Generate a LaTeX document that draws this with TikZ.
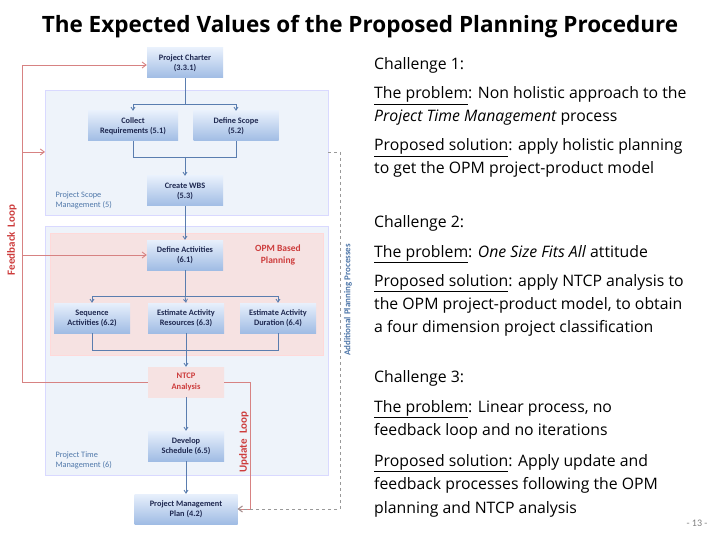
\documentclass[tikz,border=0pt]{standalone}
\usepackage{fontspec}
\setmainfont{Carlito}
\newfontfamily\osans{Open Sans}
\usetikzlibrary{arrows.meta}
\definecolor{boxtop}{RGB}{232,240,252}
\definecolor{boxbot}{RGB}{160,188,228}
\definecolor{navy}{RGB}{30,40,80}
\definecolor{lblue}{RGB}{80,120,170}
\definecolor{bgblue}{RGB}{238,243,250}
\definecolor{bgpink}{RGB}{246,226,226}
\definecolor{fred}{RGB}{205,60,60}
\definecolor{lred}{RGB}{215,130,130}
\definecolor{conn}{RGB}{90,125,175}
\tikzset{x=1pt,y=-1pt,
 proc/.style={top color=boxtop,bottom color=boxbot,draw=none,minimum width=76pt,minimum height=30pt,align=center,font=\fontsize{8.3}{10}\selectfont\bfseries,text=navy,inner sep=1pt},
 ln/.style={draw=conn,line width=0.8pt},
 ar/.style={ln,-{Straight Barb[length=3pt,width=4pt]}},
 fb/.style={draw=lred,line width=0.9pt},
 fbar/.style={fb,-{Straight Barb[length=4pt,width=6pt]}},
 rt/.style={anchor=base west,font=\osans\fontsize{15.8}{18}\selectfont,inner sep=0pt},
 grp/.style={font=\fontsize{8.3}{10}\selectfont,text=lblue,align=left,anchor=west}}
\begin{document}
\begin{tikzpicture}
\useasboundingbox[fill=white] (0,0) rectangle (720,540);
\node[font=\osans\fontsize{22.5}{26}\selectfont\bfseries] (title) at (360,27) {The Expected Values of the Proposed Planning Procedure};
% backgrounds
\path[fill=bgblue,draw=white!85!blue] (45,90) rectangle (328,215);
\coordinate (scopeL) at (45,152);
\coordinate (scopeR) at (328,152);
\path[fill=bgblue,draw=white!85!blue] (45,226) rectangle (328,475);
\path[fill=bgpink,draw=white!85!red] (50,233) rectangle (323,355);
% nodes
\node[proc] (pc) at (185,63) {Project Charter\\(3.3.1)};
\node[proc,minimum width=90pt] (cr) at (133,126) {Collect\\Requirements (5.1)};
\node[proc,minimum width=85pt] (ds) at (236,126) {Define Scope\\(5.2)};
\node[proc] (wbs) at (185,191) {Create WBS\\(5.3)};
\node[grp] (psm) at (52,200) {Project Scope\\Management (5)};
\node[proc] (da) at (185,255) {Define Activities\\(6.1)};
\node[font=\fontsize{9.5}{11.5}\selectfont\bfseries,text=fred,align=center] (opm) at (278,255) {OPM Based\\Planning};
\node[proc] (sa) at (92,318) {Sequence\\Activities (6.2)};
\node[proc] (er) at (186,318) {Estimate Activity\\Resources (6.3)};
\node[proc] (ed) at (278,318) {Estimate Activity\\Duration (6.4)};
\node[proc,top color=bgpink,bottom color=bgpink,text=fred,font=\fontsize{8.5}{10.5}\selectfont\bfseries] (ntcp) at (186,382) {NTCP\\Analysis};
\node[proc] (dev) at (186,446) {Develop\\Schedule (6.5)};
\node[grp] (ptm) at (52,460) {Project Time\\Management (6)};
\node[proc,minimum width=103pt] (pmp) at (186,509) {Project Management\\Plan (4.2)};
% connectors
\draw[ln] (pc.south) -- (185,104);
\draw[ar] (185,104) -| (cr.north);
\draw[ar] (185,104) -| (ds.north);
\draw[ln] (cr.south) |- (185,157);
\draw[ln] (ds.south) |- (185,157);
\draw[ar] (185,157) -- (wbs.north);
\draw[ar] (wbs.south) -- (da.north);
\draw[ln] (da.south) -- (185,296);
\draw[ar] (185,296) -| (sa.north);
\draw[ar] (185,296) -| (ed.north);
\draw[ar] (185,296) -- (er.north);
\draw[ln] (sa.south) |- (186,350);
\draw[ln] (ed.south) |- (186,350);
\draw[ln] (er.south) -- (186,350);
\draw[ar] (186,350) -- (ntcp.north);
\draw[ar] (ntcp.south) -- (dev.north);
\draw[ar] (dev.south) -- (pmp.north);
% feedback loop
\coordinate (fbx) at (22,382);
\draw[fb] (ntcp.west) -- (fbx) -- (22,65);
\draw[fbar] (22,65) -- (pc.west|-22,65);
\draw[fbar] (22,152) -- (scopeL);
\draw[fbar] (22,255) -- (da.west);
\node[rotate=90,text=fred,font=\fontsize{11}{13}\selectfont\bfseries] (fbl) at (12,240) {Feedback\ \ Loop};
% update loop
\draw[fbar] (ntcp.east) -| (250,509) -- (pmp.east);
\node[rotate=90,text=fred,font=\fontsize{11}{13}\selectfont\bfseries] (upl) at (244,442) {Update\ \ Loop};
% additional
\draw[draw=gray!80,dashed,line width=0.8pt,-{Straight Barb[length=4pt,width=6pt]}] (scopeR) -| (340,509) -- (pmp.east);
\node[rotate=90,text=lblue,font=\fontsize{9}{10}\selectfont\bfseries] (apl) at (348,300) {Additional Planning Processes};
% right text
\node[rt] (t1) at (374,70) {Challenge 1:};
\node[rt] (t2) at (374,99) {\underline{The problem}: Non holistic approach to the};
\node[rt] (t3) at (374,122) {\itshape Project Time Management \upshape process};
\node[rt] (t4) at (374,151) {\underline{Proposed solution}: apply holistic planning};
\node[rt] (t5) at (374,174) {to get the OPM project-product  model};
\node[rt] (t6) at (374,228) {Challenge 2:};
\node[rt] (t7) at (374,257) {\underline{The problem}: \textit{One Size Fits All} attitude};
\node[rt] (t8) at (374,286) {\underline{Proposed solution}: apply NTCP analysis to};
\node[rt] (t9) at (374,309) {the OPM project-product model, to obtain};
\node[rt] (t10) at (374,332) {a four dimension project classification};
\node[rt] (t11) at (374,382) {Challenge 3:};
\node[rt] (t12) at (374,412) {\underline{The problem}: Linear process, no};
\node[rt] (t13) at (374,435) {feedback loop and no iterations};
\node[rt] (t14) at (374,466) {\underline{Proposed solution}: Apply update and};
\node[rt] (t15) at (374,489) {feedback processes following the OPM};
\node[rt] (t16) at (374,513) {planning and NTCP analysis};
\node[text=gray,font=\fontsize{10}{11}\selectfont] (pg) at (697,523) {- 13 -};
\end{tikzpicture}
\end{document}
